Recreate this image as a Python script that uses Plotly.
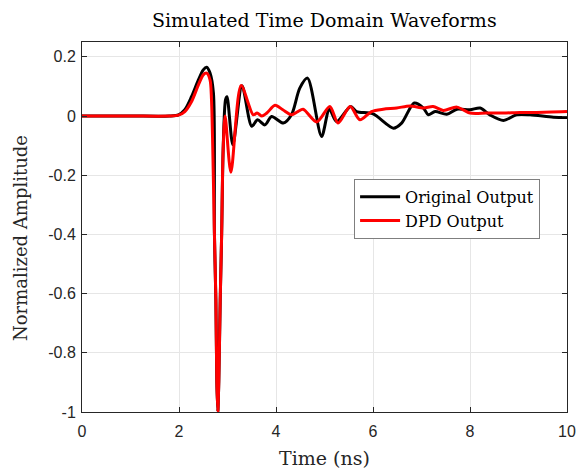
import plotly.graph_objects as go

# Original Output (black)
t_orig = [0.0, 1.0, 1.8, 1.99, 2.12, 2.26, 2.40, 2.50, 2.57, 2.64, 2.71, 2.73, 2.76, 2.78, 2.80,
          2.82, 2.85, 2.88, 2.91, 2.96, 2.99, 3.11, 3.30, 3.50, 3.62, 3.77, 3.91, 4.15, 4.32,
          4.49, 4.65, 4.94, 5.10, 5.25, 5.54, 5.66, 6.00, 6.42, 6.59, 6.85, 7.04, 7.14, 7.28,
          7.52, 7.73, 8.00, 8.21, 8.41, 8.69, 8.96, 9.24, 9.72, 10.0]
v_orig = [0.0, 0.0, 0.0, 0.004, 0.021, 0.066, 0.122, 0.156, 0.165, 0.145, 0.077, -0.395, -0.62, -0.90, -1.0,
          -0.90, -0.62, -0.395, -0.114, 0.055, 0.065, -0.097, 0.102, -0.035, -0.013, -0.030, -0.002, -0.024, 0.004,
          0.094, 0.128, -0.069, 0.023, -0.019, 0.032, 0.015, 0.007, -0.041, -0.024, 0.044, 0.027, 0.004, 0.015,
          0.006, 0.023, 0.021, 0.027, 0.004, -0.015, 0.004, 0.004, -0.004, -0.005]

# DPD Output (red)
t_dpd = [0.0, 1.0, 1.8, 1.99, 2.12, 2.26, 2.40, 2.50, 2.57, 2.64, 2.67, 2.73, 2.76, 2.78, 2.80,
         2.82, 2.85, 2.88, 2.91, 2.95, 3.07, 3.28, 3.53, 3.61, 3.71, 3.81, 3.98, 4.14, 4.32,
         4.45, 4.56, 4.84, 5.11, 5.28, 5.53, 5.73, 5.97, 6.21, 6.49, 6.76, 7.04, 7.24, 7.45,
         7.73, 8.00, 8.34, 8.69, 9.03, 9.37, 10.0]
v_dpd = [0.0, 0.0, 0.0, 0.003, 0.015, 0.049, 0.105, 0.139, 0.145, 0.122, 0.055, -0.395, -0.62, -0.90, -1.0,
         -0.90, -0.62, -0.395, -0.114, 0.0, -0.19, 0.103, 0.004, 0.010, 0.0, 0.010, 0.036, 0.021, 0.004,
         0.015, 0.023, -0.020, 0.032, -0.024, 0.032, -0.013, 0.015, 0.023, 0.027, 0.034, 0.027, 0.032, 0.019,
         0.030, 0.010, 0.010, 0.010, 0.012, 0.012, 0.015]

x_ticks = [0, 2, 4, 6, 8, 10]
x_labels = ["0", "2", "4", "6", "8", "10"]
y_ticks = [-1, -0.8, -0.6, -0.4, -0.2, 0, 0.2]
y_labels = ["-1", "-0.8", "-0.6", "-0.4", "-0.2", "0", "0.2"]

serif = "DejaVu Serif"
sans = "Liberation Sans"

fig = go.Figure()
fig.add_trace(go.Scatter(x=t_orig, y=v_orig, mode="lines", name="Original Output",
                         line=dict(color="black", width=3, shape="spline", smoothing=0.8)))
fig.add_trace(go.Scatter(x=t_dpd, y=v_dpd, mode="lines", name="DPD Output",
                         line=dict(color="#ff0000", width=3, shape="spline", smoothing=0.8)))

axis_common = dict(showline=True, linecolor="#262626", linewidth=1, mirror="allticks",
                   ticks="inside", ticklen=5, tickcolor="#262626", automargin=False,
                   showgrid=True, gridcolor="#e6e6e6", gridwidth=1, zeroline=False,
                   tickfont=dict(family=sans, size=16, color="#262626"))

fig.update_layout(
    width=578, height=472,
    margin=dict(l=82, r=11, t=42, b=60, autoexpand=False),
    paper_bgcolor="white", plot_bgcolor="white",
    title=dict(text="Simulated Time Domain Waveforms", x=0.561, xanchor="center",
               y=0.957, yanchor="middle", font=dict(family=serif, size=19, color="#000")),
    xaxis=dict(range=[0, 10], tickvals=x_ticks, ticktext=x_labels, ticklabelstandoff=5,
               title=dict(text="Time (ns)", font=dict(family=serif, size=19, color="#262626"), standoff=12),
               **axis_common),
    yaxis=dict(range=[-1, 0.25], tickvals=y_ticks, ticktext=y_labels, ticklabelstandoff=2,
               **axis_common),
    legend=dict(x=0.561, y=0.630, xanchor="left", yanchor="top",
                bgcolor="white", bordercolor="#7f7f7f", borderwidth=1,
                font=dict(family=serif, size=16, color="#000"),
                tracegroupgap=0, itemwidth=40),
    showlegend=True,
    annotations=[dict(text="Normalized Amplitude", xref="paper", yref="paper",
                      x=-0.128, y=0.47, xanchor="center", yanchor="middle",
                      textangle=-90, showarrow=False,
                      font=dict(family=serif, size=18, color="#262626"))],
)

fig.write_html("out.html")
